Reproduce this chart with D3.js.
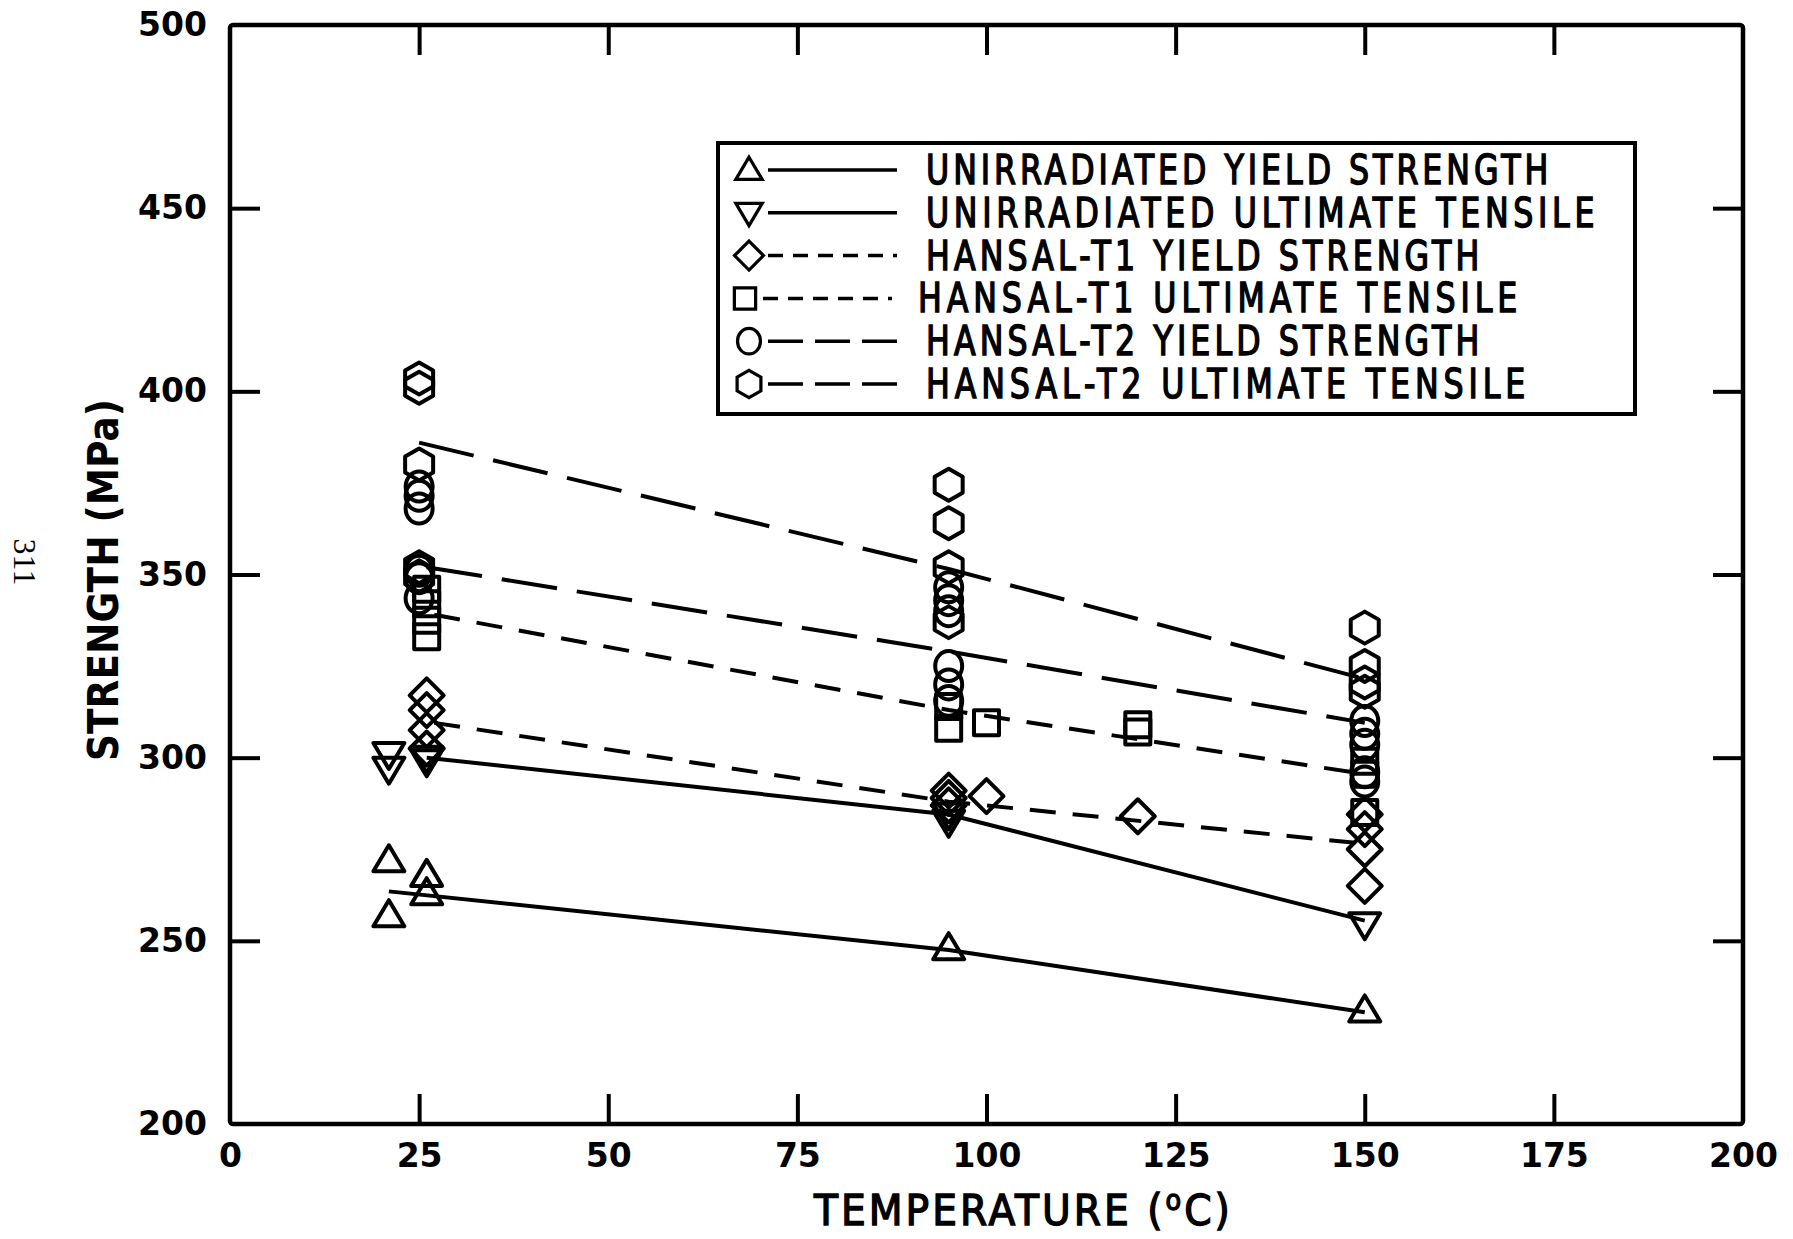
<!DOCTYPE html>
<html><head><meta charset="utf-8">
<script src="https://cdn.jsdelivr.net/npm/d3@7"></script>
<style>body{margin:0;background:#fff}</style>
</head><body>
<svg id="c" width="1793" height="1239"></svg>
<script>
// ---- tick labels ----
const xTicks = [0, 25, 50, 75, 100, 125, 150, 175, 200];
const yTicks = [200, 250, 300, 350, 400, 450, 500];

// ---- series names ----
const seriesNames = [
  "UNIRRADIATED YIELD STRENGTH",
  "UNIRRADIATED ULTIMATE TENSILE",
  "HANSAL-T1 YIELD STRENGTH",
  "HANSAL-T1 ULTIMATE TENSILE",
  "HANSAL-T2 YIELD STRENGTH",
  "HANSAL-T2 ULTIMATE TENSILE"
];

// ---- measured points (temperature °C, strength MPa) ----
const unirrYieldT = [21, 21, 26, 26, 95, 150];
const unirrYieldS = [272, 257, 268, 263, 248, 231];
const unirrUtsT = [21, 21, 26, 26, 95, 95, 150];
const unirrUtsS = [301, 297, 300, 299, 284.5, 282.5, 254.5];
const t1YieldT = [26, 26, 26, 26, 95, 95, 95, 100, 120, 150, 150, 150, 150];
const t1YieldS = [317, 313, 307.5, 302.5, 291, 289, 287, 289.5, 284, 284.5, 280.5, 275, 265];
const t1UtsT = [26, 26, 26, 26, 95, 95, 100, 120, 120, 150, 150, 150];
const t1UtsS = [346, 342, 337.5, 333, 314, 308, 309.5, 309, 307, 299, 295.5, 285];
const t2YieldT = [25, 25, 25, 25, 25, 25, 95, 95, 95, 95, 95, 95, 150, 150, 150, 150, 150];
const t2YieldS = [374, 371.5, 368, 351, 349, 343.5, 346.5, 343, 340, 325, 320, 315.5, 310, 306.5, 303.5, 296, 293.5];
const t2UtsT = [25, 25, 25, 25, 25, 95, 95, 95, 95, 150, 150, 150, 150];
const t2UtsS = [403.5, 401, 380, 352, 349.5, 374.5, 364, 352, 337, 335.5, 325, 320.5, 318];

// ---- fitted lines ----
const unirrYieldFitT = [21, 95, 150];
const unirrYieldFitS = [263.5, 247.5, 230.5];
const unirrUtsFitT = [26, 95, 150];
const unirrUtsFitS = [300, 284.5, 255.5];
const t1YieldFitT = [27, 95, 150];
const t1YieldFitS = [309.5, 288, 276.5];
const t1UtsFitT = [27, 95, 150];
const t1UtsFitS = [339, 313, 295.5];
const t2YieldFitT = [26, 95, 150];
const t2YieldFitS = [352, 329, 309.5];
const t2UtsFitT = [25, 95, 150];
const t2UtsFitS = [386, 351.5, 321.5];

// ---- layout ----
const L = 230, R = 1743, T = 25, B = 1124;
const svg = d3.select("#c");
const x = d3.scaleLinear().domain([0, 200]).range([L, R]);
const y = d3.scaleLinear().domain([200, 500]).range([B, T]);

const zip = (a, b) => a.map((v, i) => [v, b[i]]);
const series = [
  {pts: zip(unirrYieldT, unirrYieldS), fit: zip(unirrYieldFitT, unirrYieldFitS), shape: "triUp", dash: null, legDash: null},
  {pts: zip(unirrUtsT, unirrUtsS), fit: zip(unirrUtsFitT, unirrUtsFitS), shape: "triDown", dash: null, legDash: null},
  {pts: zip(t1YieldT, t1YieldS), fit: zip(t1YieldFitT, t1YieldFitS), shape: "diamond", dash: "26 17", legDash: "15 10"},
  {pts: zip(t1UtsT, t1UtsS), fit: zip(t1UtsFitT, t1UtsFitS), shape: "square", dash: "26 17", legDash: "15 10"},
  {pts: zip(t2YieldT, t2YieldS), fit: zip(t2YieldFitT, t2YieldFitS), shape: "circle", dash: "56 20", legDash: "35 12"},
  {pts: zip(t2UtsT, t2UtsS), fit: zip(t2UtsFitT, t2UtsFitS), shape: "hexagon", dash: "56 20", legDash: "35 12"}
];
series.forEach((s, i) => s.name = seriesNames[i]);

function shapePath(shape) {
  switch (shape) {
    case "triUp": return "M0,-15L15.5,11L-15.5,11Z";
    case "triDown": return "M0,15L15.5,-11L-15.5,-11Z";
    case "diamond": return "M0,-17L17,0L0,17L-17,0Z";
    case "square": return "M-12.5,-12.5H12.5V12.5H-12.5Z";
    case "circle": return "M0,-15A13.5,15 0 1,1 0,15A13.5,15 0 1,1 0,-15Z";
    case "hexagon": return "M0,-16L14,-8L14,8L0,16L-14,8L-14,-8Z";
  }
}

// ---- axes ----
const tickFont = "DejaVu Sans, Verdana, sans-serif";
const narrowFont = "DejaVu Sans Condensed, Liberation Sans Narrow, Arial Narrow, sans-serif";
function styleAxis(g, labels) {
  g.select(".domain").remove();
  g.selectAll(".tick line").attr("stroke", "#000").attr("stroke-width", 4);
  if (labels) {
    g.selectAll(".tick text").attr("fill", "#000")
      .attr("font-family", tickFont).attr("font-weight", "bold").attr("font-size", 33);
  } else {
    g.selectAll(".tick text").remove();
  }
}
svg.append("g").attr("transform", `translate(0,${B})`)
  .call(d3.axisBottom(x).tickValues(xTicks).tickSize(-30).tickPadding(20).tickFormat(d3.format("d")))
  .call(g => styleAxis(g, true));
svg.append("g").attr("transform", `translate(0,${T})`)
  .call(d3.axisTop(x).tickValues(xTicks.slice(1, -1)).tickSize(-30))
  .call(g => styleAxis(g, false));
svg.append("g").attr("transform", `translate(${L},0)`)
  .call(d3.axisLeft(y).tickValues(yTicks).tickSize(-30).tickPadding(23).tickFormat(d3.format("d")))
  .call(g => styleAxis(g, true));
svg.append("g").attr("transform", `translate(${R},0)`)
  .call(d3.axisRight(y).tickValues(yTicks.slice(1, -1)).tickSize(-30))
  .call(g => styleAxis(g, false));
svg.selectAll(".tick").filter(d => d === 0 || d === 200 || d === 500).select("line").remove();

svg.append("rect").attr("x", L).attr("y", T).attr("width", R - L).attr("height", B - T)
  .attr("fill", "none").attr("stroke", "#000").attr("stroke-width", 4.5).attr("rx", 3);

// ---- axis titles ----
svg.append("text")
  .attr("transform", "translate(118,580) rotate(-90)")
  .attr("text-anchor", "middle")
  .attr("font-family", tickFont).attr("font-weight", "bold").attr("font-size", 42)
  .attr("textLength", 362).attr("lengthAdjust", "spacingAndGlyphs")
  .text("STRENGTH (MPa)");

// x title: narrow glyphs (scaled), spaced out to reference width
const xtG = svg.append("g");
const xt = xtG.append("text")
  .attr("x", 0).attr("y", 0)
  .attr("font-family", narrowFont)
  .attr("font-size", 43).attr("stroke", "#000").attr("stroke-width", 1.3)
  .attr("letter-spacing", 3);
xt.append("tspan").text("TEMPERATURE (");
xt.append("tspan").attr("font-size", 28).attr("dy", -15).text("o");
xt.append("tspan").attr("dy", 15).text("C)");
const xtW = xt.node().getBBox().width;
xtG.attr("transform", `translate(814,1225) scale(${420 / xtW},1)`);

svg.append("text")
  .attr("transform", "translate(14,562) rotate(90)")
  .attr("text-anchor", "middle")
  .attr("font-family", "Liberation Serif, DejaVu Serif, serif").attr("font-size", 32)
  .text("311");

// ---- fit lines ----
const line = d3.line().x(d => x(d[0])).y(d => y(d[1]));
svg.append("g").selectAll("path").data(series).join("path")
  .attr("d", s => line(s.fit))
  .attr("fill", "none").attr("stroke", "#000").attr("stroke-width", 4)
  .attr("stroke-dasharray", s => s.dash);

// ---- markers ----
series.forEach(s => {
  svg.append("g").selectAll("path").data(s.pts).join("path")
    .attr("transform", d => `translate(${x(d[0])},${y(d[1])})`)
    .attr("d", shapePath(s.shape))
    .attr("fill", "none").attr("stroke", "#000").attr("stroke-width", 4)
    .attr("stroke-linejoin", "round");
});

// ---- legend ----
const lg = svg.append("g");
lg.append("rect").attr("x", 718).attr("y", 143).attr("width", 917).attr("height", 271)
  .attr("fill", "#fff").attr("stroke", "#000").attr("stroke-width", 4);
const rows = lg.selectAll("g.row").data(series).join("g").attr("class", "row")
  .attr("transform", (s, i) => `translate(0,${170 + i * 42.8})`);
rows.append("path")
  .attr("transform", (s, i) => `translate(${i === 3 ? 745 : 749},0) scale(0.85)`)
  .attr("d", s => shapePath(s.shape))
  .attr("fill", "none").attr("stroke", "#000").attr("stroke-width", 3.8);
rows.append("line")
  .attr("x1", (s, i) => i === 3 ? 763 : 768).attr("x2", (s, i) => i === 3 ? 892 : 897)
  .attr("stroke", "#000").attr("stroke-width", 3.5)
  .attr("stroke-dasharray", s => s.legDash);
const gsx = 0.88;
rows.append("g")
  .attr("transform", (s, i) => `translate(${i === 3 ? 918 : 926},14) scale(${gsx},1)`)
  .append("text")
  .attr("x", 0).attr("y", 0)
  .attr("font-family", narrowFont)
  .attr("font-size", 40).attr("stroke", "#000").attr("stroke-width", 1.4)
  .attr("textLength", s => s.name.length * 23.05 / gsx).attr("lengthAdjust", "spacing")
  .text(s => s.name);
</script>
</body></html>
